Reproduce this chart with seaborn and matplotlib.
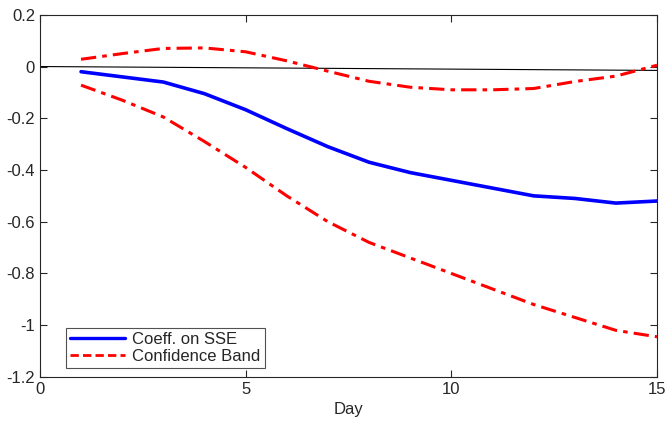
import numpy as np
import pandas as pd
import matplotlib
matplotlib.use("Agg")
from matplotlib import pyplot as plt
from matplotlib.lines import Line2D
import seaborn as sns

days = list(range(1, 16))
coeff = [-0.02, -0.04, -0.06, -0.105, -0.167, -0.24, -0.31, -0.37, -0.41, -0.44,
         -0.47, -0.50, -0.51, -0.528, -0.52]
upper = [0.028, 0.05, 0.07, 0.072, 0.057, 0.022, -0.018, -0.057, -0.08, -0.09,
         -0.09, -0.085, -0.058, -0.037, 0.005]
lower = [-0.072, -0.13, -0.195, -0.29, -0.39, -0.50, -0.60, -0.68, -0.74, -0.80,
         -0.86, -0.92, -0.97, -1.02, -1.045]
zero_x = [0, 15]
zero_y = [0, -0.015]
xticks = [0, 5, 10, 15]
yticks = [-1.2, -1, -0.8, -0.6, -0.4, -0.2, 0, 0.2]
ytick_labels = ["-1.2", "-1", "-0.8", "-0.6", "-0.4", "-0.2", "0", "0.2"]
legend_labels = ['Coeff. on SSE', 'Confidence Band']

sns.set_style("ticks")
plt.rcParams['font.family'] = ['Liberation Sans', 'DejaVu Sans']
plt.rcParams['axes.unicode_minus'] = False

df = pd.DataFrame({'day': days, 'coeff': coeff, 'upper': upper, 'lower': lower})

fig = plt.figure(figsize=(6.65, 4.23), dpi=100)
ax = fig.add_axes([0.060, 0.109, 0.928, 0.856])

dashdot = (0, (5, 2, 1.5, 2))
sns.lineplot(x=zero_x, y=zero_y, ax=ax, color='black', linewidth=0.8)
sns.lineplot(data=df, x='day', y='coeff', ax=ax, color='#0000ff', linewidth=2.6)
sns.lineplot(data=df, x='day', y='upper', ax=ax, color='#ff0000', linewidth=2.2,
             linestyle=dashdot)
sns.lineplot(data=df, x='day', y='lower', ax=ax, color='#ff0000', linewidth=2.2,
             linestyle=dashdot)

ax.set_xlim(0, 15)
ax.set_ylim(-1.2, 0.2)
ax.set_xticks(xticks)
ax.set_xticklabels([str(t) for t in xticks])
ax.set_yticks(yticks)
ax.set_yticklabels(ytick_labels)
ax.set_xlabel('Day', fontsize=12, color='#262626')
ax.set_ylabel('')
ax.tick_params(direction='in', length=5, width=0.8, colors='#262626', labelsize=12,
               top=True, right=True)
for s in ax.spines.values():
    s.set_visible(True)
    s.set_color('#262626')
    s.set_linewidth(0.8)

handles = [Line2D([], [], color='#0000ff', linewidth=2.4),
           Line2D([], [], color='#ff0000', linewidth=2.0, linestyle=(0, (3, 1.5)))]
leg = ax.legend(handles, legend_labels, loc='lower left', bbox_to_anchor=(0.042, 0.025),
                fontsize=12, frameon=True, fancybox=False, borderpad=0.25,
                labelspacing=0.1, handlelength=3.3, handletextpad=0.45,
                borderaxespad=0)
leg.get_frame().set_edgecolor('#262626')
leg.get_frame().set_linewidth(0.8)

fig.savefig('out.png', dpi=100)
